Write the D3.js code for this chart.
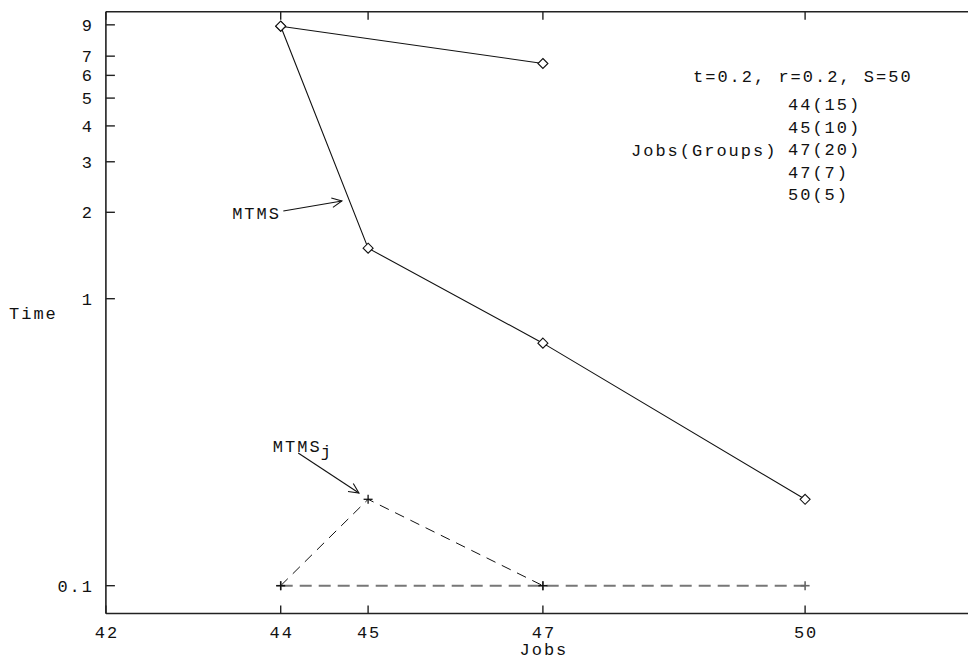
<!DOCTYPE html>
<html><head><meta charset="utf-8">
<script src="https://cdn.jsdelivr.net/npm/d3@7"></script>
<style>
html,body{margin:0;padding:0;background:#fff;}
svg text{font-family:"Liberation Mono",monospace;font-size:17px;letter-spacing:2px;fill:#111;}
</style></head>
<body>
<svg id="c" width="968" height="658"></svg>
<script>
// ---- data ----
const xTicks = [42, 44, 45, 47, 50];
const yTicks = [0.1, 1, 2, 3, 4, 5, 6, 7, 9];
const mtmsX = [44, 45, 47, 50];
const mtmsY = [8.9, 1.5, 0.7, 0.2];
const upperX = [44, 47];
const upperY = [8.9, 6.6];
const mtmsjX = [44, 45, 47];
const mtmsjY = [0.1, 0.2, 0.1];
const baseX = [44, 47, 50];
const baseY = [0.1, 0.1, 0.1];
const legendTitle = "t=0.2, r=0.2, S=50";
const legendLabel = "Jobs(Groups)";
const legendItems = ["44(15)", "45(10)", "47(20)", "47(7)", "50(5)"];

const svg = d3.select("#c");
const LS = 2;
const x = d3.scaleLinear().domain([42, 52]).range([105.9, 979.9]);
const y = d3.scaleLog().domain([0.08, 10]).range([613.5, 11.7]);
const X0 = x(42), X1 = x(52), Y0 = y(0.08), Y1 = y(10);

const toPts = (xs, ys) => xs.map((v, i) => [v, ys[i]]);
const line = d3.line().x(d => x(d[0])).y(d => y(d[1]));

// frame
const fr = svg.append("g").attr("stroke", "#222").attr("stroke-width", 1.6).attr("fill", "none");
fr.append("line").attr("x1", X0).attr("x2", X1).attr("y1", Y0).attr("y2", Y0);
fr.append("line").attr("x1", X0).attr("x2", X1).attr("y1", Y1).attr("y2", Y1);
fr.append("line").attr("x1", X0).attr("x2", X0).attr("y1", Y1).attr("y2", Y0);

// ticks
const tk = svg.append("g").attr("stroke", "#222").attr("stroke-width", 1.4);
xTicks.forEach(t => {
  tk.append("line").attr("x1", x(t)).attr("x2", x(t)).attr("y1", Y0).attr("y2", Y0 - 8);
  tk.append("line").attr("x1", x(t)).attr("x2", x(t)).attr("y1", Y1).attr("y2", Y1 + 8);
  svg.append("text").attr("x", x(t) + LS / 2).attr("y", 638).attr("text-anchor", "middle").text(t);
});
yTicks.forEach(t => {
  tk.append("line").attr("x1", X0).attr("x2", X0 + 9).attr("y1", y(t)).attr("y2", y(t));
  svg.append("text").attr("x", 92 + LS).attr("y", y(t) + 6).attr("text-anchor", "end").text(t);
});

// axis titles
svg.append("text").attr("x", 9).attr("y", 319).text("Time");
svg.append("text").attr("x", x(47) + LS / 2).attr("y", 655).attr("text-anchor", "middle").text("Jobs");

// series
svg.append("path").datum(toPts(baseX, baseY)).attr("d", line)
  .attr("fill", "none").attr("stroke", "#777").attr("stroke-width", 2).attr("stroke-dasharray", "12,7");
svg.append("path").datum(toPts(mtmsjX, mtmsjY)).attr("d", line)
  .attr("fill", "none").attr("stroke", "#111").attr("stroke-width", 1).attr("stroke-dasharray", "10,7");
svg.append("path").datum(toPts(upperX, upperY)).attr("d", line)
  .attr("fill", "none").attr("stroke", "#111").attr("stroke-width", 1.1);
svg.append("path").datum(toPts(mtmsX, mtmsY)).attr("d", line)
  .attr("fill", "none").attr("stroke", "#111").attr("stroke-width", 1.1);

// markers
function plus(pts, color, w) {
  const g = svg.append("g").attr("stroke", color).attr("stroke-width", w);
  pts.forEach(d => {
    g.append("line").attr("x1", x(d[0]) - 4.5).attr("x2", x(d[0]) + 4.5).attr("y1", y(d[1])).attr("y2", y(d[1]));
    g.append("line").attr("x1", x(d[0])).attr("x2", x(d[0])).attr("y1", y(d[1]) - 4.5).attr("y2", y(d[1]) + 4.5);
  });
}
plus(toPts(baseX, baseY), "#666", 1.6);
plus(toPts(mtmsjX, mtmsjY), "#111", 1.3);
function diamonds(pts) {
  svg.append("g").selectAll("path").data(pts).join("path")
    .attr("d", d => { const cx = x(d[0]), cy = y(d[1]), r = 5; return `M${cx},${cy - r}L${cx + r},${cy}L${cx},${cy + r}L${cx - r},${cy}Z`; })
    .attr("fill", "#fff").attr("stroke", "#111").attr("stroke-width", 1.1);
}
diamonds(toPts(upperX, upperY));
diamonds(toPts(mtmsX, mtmsY));

// annotations (in data units)
function arrow(a, b) {
  const x1 = x(a[0]), y1 = y(a[1]), x2 = x(b[0]), y2 = y(b[1]);
  const ang = Math.atan2(y2 - y1, x2 - x1), L = 11, h = 0.45;
  const g = svg.append("g").attr("stroke", "#111").attr("stroke-width", 1.1).attr("fill", "none");
  g.append("line").attr("x1", x1).attr("y1", y1).attr("x2", x2).attr("y2", y2);
  g.append("path").attr("d",
    `M${x2 - L * Math.cos(ang - h)},${y2 - L * Math.sin(ang - h)}L${x2},${y2}L${x2 - L * Math.cos(ang + h)},${y2 - L * Math.sin(ang + h)}`);
}
svg.append("text").attr("x", x(43.98) + LS).attr("y", y(1.9)).attr("text-anchor", "end").text("MTMS");
arrow([44.03, 2.02], [44.70, 2.19]);
const tj = svg.append("text").attr("x", x(43.91)).attr("y", y(0.292));
tj.append("tspan").text("MTMS");
tj.append("tspan").attr("dx", -1).attr("dy", 5).text("j");
arrow([44.20, 0.29], [44.895, 0.2104]);

// legend text
svg.append("text").attr("x", 693).attr("y", 82).text(legendTitle);
svg.append("text").attr("x", 631).attr("y", 156).text(legendLabel);
svg.append("g").selectAll("text").data(legendItems).join("text")
  .attr("x", 788).attr("y", (d, i) => 110 + i * 22.6).text(d => d);
</script>
</body></html>
